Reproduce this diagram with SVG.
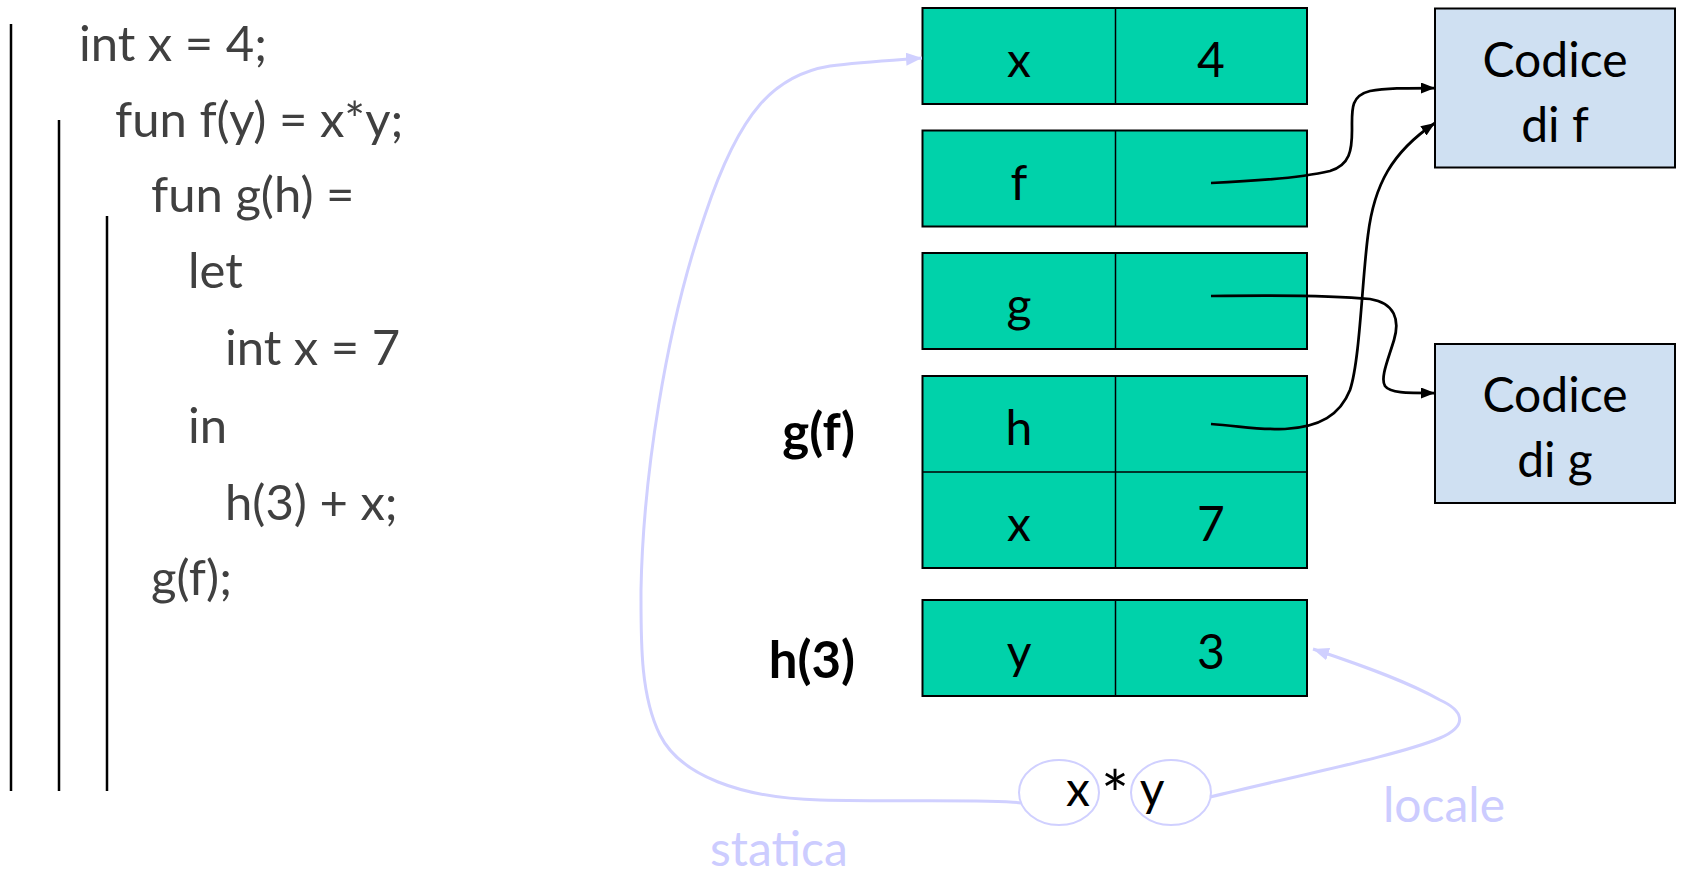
<svg xmlns="http://www.w3.org/2000/svg" width="1682" height="875" viewBox="0 0 1682 875">
<style>
.code{font-family:Lato,"Open Sans",sans-serif;font-size:49px;fill:#404040}
.cell{font-family:Lato,"Open Sans",sans-serif;font-size:48px;fill:#000;text-anchor:middle}
.lbl{font-family:Lato,"Open Sans",sans-serif;font-size:51px;font-weight:bold;fill:#000;text-anchor:end}
.lav{font-family:Lato,"Open Sans",sans-serif;font-size:48px;fill:#CCCCFF}
.box{fill:#00D2AA;stroke:#000;stroke-width:2}
.div{stroke:#000;stroke-width:1.5}
.code-box{fill:#CFE0F2;stroke:#000;stroke-width:2}
.scope{stroke:#000;stroke-width:2.5}
.conn{fill:none;stroke:#000;stroke-width:2.75}
.lavline{fill:none;stroke:#D0D0FF;stroke-width:3}
.ell{fill:none;stroke:#D0D0FF;stroke-width:2}
</style>
<defs>
<marker id="ah" markerUnits="userSpaceOnUse" markerWidth="16" markerHeight="12" refX="14" refY="5.5" orient="auto">
<path d="M0,0 L14,5.5 L0,11 z" fill="#000"/>
</marker>
<marker id="ahl" markerUnits="userSpaceOnUse" markerWidth="18" markerHeight="14" refX="16" refY="6.5" orient="auto">
<path d="M0,0 L16,6.5 L0,13 z" fill="#D0D0FF"/>
</marker>
</defs>

<g id="scopes">
<line class="scope" x1="11" y1="24" x2="11" y2="791"/>
<line class="scope" x1="59" y1="120" x2="59" y2="791"/>
<line class="scope" x1="107" y1="216" x2="107" y2="791"/>
</g>

<g id="code">
<text class="code" x="79" y="61">int x = 4;</text>
<text class="code" x="115" y="137">fun f(y) = x*y;</text>
<text class="code" x="151" y="212">fun g(h) =</text>
<text class="code" x="188" y="288">let</text>
<text class="code" x="225" y="365">int x = 7</text>
<text class="code" x="188" y="443">in</text>
<text class="code" x="225" y="520">h(3) + x;</text>
<text class="code" x="151" y="595">g(f);</text>
</g>

<g id="row-x4">
<rect class="box" x="922.5" y="8" width="384.5" height="96"/>
<line class="div" x1="1115.5" y1="8" x2="1115.5" y2="104"/>
<text class="cell" x="1019" y="77">x</text>
<text class="cell" x="1211" y="77">4</text>
</g>
<g id="row-f">
<rect class="box" x="922.5" y="130.5" width="384.5" height="96"/>
<line class="div" x1="1115.5" y1="130.5" x2="1115.5" y2="226.5"/>
<text class="cell" x="1019" y="199.5">f</text>
</g>
<g id="row-g">
<rect class="box" x="922.5" y="253" width="384.5" height="96"/>
<line class="div" x1="1115.5" y1="253" x2="1115.5" y2="349"/>
<text class="cell" x="1019" y="322">g</text>
</g>
<g id="frame-gf">
<rect class="box" x="922.5" y="376" width="384.5" height="192"/>
<line class="div" x1="922.5" y1="472" x2="1307" y2="472"/>
<line class="div" x1="1115.5" y1="376" x2="1115.5" y2="568"/>
<text class="cell" x="1019" y="445">h</text>
<text class="cell" x="1019" y="541">x</text>
<text class="cell" x="1211" y="541">7</text>
<text class="lbl" x="855" y="450">g(f)</text>
</g>
<g id="frame-h3">
<rect class="box" x="922.5" y="600" width="384.5" height="96"/>
<line class="div" x1="1115.5" y1="600" x2="1115.5" y2="696"/>
<text class="cell" x="1019" y="669">y</text>
<text class="cell" x="1211" y="669">3</text>
<text class="lbl" x="855" y="678">h(3)</text>
</g>

<g id="code-f">
<rect class="code-box" x="1435" y="8.5" width="240" height="159"/>
<text class="cell" x="1555" y="77">Codice</text>
<text class="cell" x="1555" y="142">di f</text>
</g>
<g id="code-g">
<rect class="code-box" x="1435" y="344" width="240" height="159"/>
<text class="cell" x="1555" y="412">Codice</text>
<text class="cell" x="1555" y="477">di g</text>
</g>

<g id="expr">
<ellipse class="ell" cx="1059" cy="792.5" rx="40" ry="32.5"/>
<ellipse class="ell" cx="1171" cy="792.5" rx="40" ry="32.5"/>
<text class="cell" y="806"><tspan x="1078">x</tspan><tspan x="1115" y="819" style="font-size:66px">*</tspan><tspan x="1152" y="806">y</tspan></text>
</g>

<g id="connectors">
<path class="conn" marker-end="url(#ah)" d="M1211 183 C1260 181 1300 178 1330 171 C1350 165 1352 150 1352 130 C1352 110 1350 96 1370 91 C1385 88 1405 88 1435 88"/>
<path class="conn" marker-end="url(#ah)" d="M1211 296 C1280 295 1340 296 1370 299 C1395 303 1400 320 1394 340 C1388 360 1380 378 1385 386 C1390 393 1405 393 1435 393"/>
<path class="conn" marker-end="url(#ah)" d="M1211 424 C1240 426 1260 430 1285 429 C1320 427 1340 415 1350 390 C1360 360 1362 280 1368 235 C1374 185 1392 152 1435 123"/>
<path class="lavline" marker-end="url(#ahl)" d="M1021 803 C1000 799 900 802 820 800 C740 798 680 775 660 735 C640 695 641 640 641 590 C643 480 665 330 705 215 C740 110 775 75 830 66 C860 62 895 60 922 58"/>
<path class="lavline" marker-end="url(#ahl)" d="M1210 797 C1300 775 1400 755 1440 738 C1470 725 1462 710 1440 700 C1410 683 1370 668 1313 649"/>
</g>

<g id="labels">
<text class="lav" x="710" y="866">statica</text>
<text class="lav" x="1383" y="822">locale</text>
</g>
</svg>
